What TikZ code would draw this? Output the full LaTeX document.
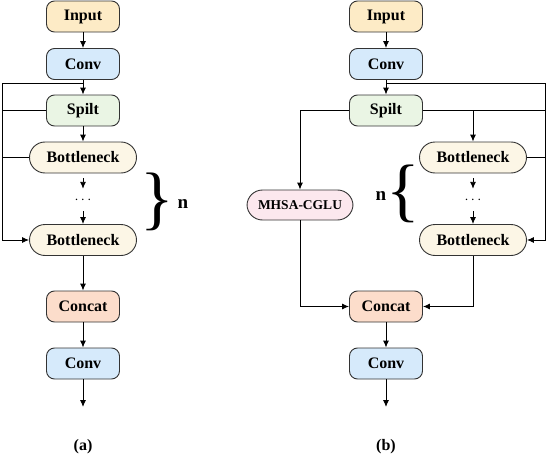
\documentclass[tikz,border=0pt]{standalone}
\usepackage{fontspec}
\setmainfont{Liberation Serif}
\usetikzlibrary{arrows.meta,calc}
\definecolor{cInput}{HTML}{FDEBC6}
\definecolor{cConv}{HTML}{D6EAFB}
\definecolor{cSplit}{HTML}{EAF5E4}
\definecolor{cBott}{HTML}{FCF6E6}
\definecolor{cConcat}{HTML}{FCDDCB}
\definecolor{cMhsa}{HTML}{FCE8EE}
\definecolor{cEdge}{HTML}{333333}
\tikzset{
  box/.style={draw=cEdge, line width=0.9pt, rounded corners=8pt, minimum width=73pt, minimum height=31pt, inner sep=0pt, font=\fontsize{16}{19}\selectfont\bfseries},
  pill/.style={draw=cEdge, line width=0.9pt, rounded corners=15.5pt, minimum width=107pt, minimum height=31pt, inner sep=0pt, font=\fontsize{16}{19}\selectfont\bfseries, fill=cBott},
  ln/.style={line width=0.9pt, draw=black},
  arr/.style={ln, -{Latex[length=7pt,width=6pt]}},
  dotsnode/.style={minimum height=22pt, inner sep=0pt, font=\fontsize{14}{14}\selectfont},
  lbl/.style={font=\fontsize{16}{19}\selectfont\bfseries, inner sep=0pt},
  nlbl/.style={font=\fontsize{19}{22}\selectfont\bfseries, inner sep=0pt},
  bracenode/.style={inner sep=0pt, font=\fontsize{70}{70}\selectfont}
}
\begin{document}
\begin{tikzpicture}[x=1pt,y=-1pt]
\useasboundingbox (0,0) rectangle (550,463);
% ---------- (a) ----------
\node[box, fill=cInput] (in1) at (83,16.5) {Input};
\node[box, fill=cConv] (cv1) at (83,64) {Conv};
\node[box, fill=cSplit] (sp1) at (83,110.5) {Spilt};
\node[pill] (b1a) at (83,157.5) {Bottleneck};
\node[dotsnode] (d1) at (83,200) {$\cdots$};
\node[pill] (b1b) at (83,240) {Bottleneck};
\node[box, fill=cConcat] (cc1) at (83,306.5) {Concat};
\node[box, fill=cConv] (cv1b) at (83,363.5) {Conv};
\coordinate (o1) at (83,407);
\coordinate (j1) at (83,83);
\coordinate (l1) at (2,83);
\draw[arr] (in1) -- (cv1);
\draw[arr] (cv1) -- (sp1);
\draw[arr] (sp1) -- (b1a);
\draw[arr, shorten <=5pt] (b1a) -- (d1.north);
\draw[arr] (d1.south) -- (b1b);
\draw[arr] (b1b) -- (cc1);
\draw[arr] (cc1) -- (cv1b);
\draw[arr] (cv1b) -- (o1);
\draw[arr] (j1) -- (l1) |- (b1b.west);
\draw[ln] (sp1.west) -- (sp1.west -| l1);
\draw[ln] (b1a.west) -- (b1a.west -| l1);
\node[bracenode] (br1) at (157,202) {\}};
\node[nlbl] (n1) at (183,204) {n};
\node[lbl] (la) at (83,447) {(a)};
% ---------- (b) ----------
\node[box, fill=cInput] (in2) at (386,16.5) {Input};
\node[box, fill=cConv] (cv2) at (386,64) {Conv};
\node[box, fill=cSplit] (sp2) at (386,110.5) {Spilt};
\node[pill, fill=cMhsa, minimum width=106pt, minimum height=30pt, font=\fontsize{13.5}{16}\selectfont\bfseries] (mh) at (300,205) {MHSA-CGLU};
\node[pill] (b2a) at (473,157.5) {Bottleneck};
\node[dotsnode] (d2) at (473,200) {$\cdots$};
\node[pill] (b2b) at (473,240) {Bottleneck};
\node[box, fill=cConcat] (cc2) at (386,306.5) {Concat};
\node[box, fill=cConv] (cv2b) at (386,363.5) {Conv};
\coordinate (o2) at (386,407);
\coordinate (j2) at (386,83);
\coordinate (r2) at (545,83);
\draw[arr] (in2) -- (cv2);
\draw[arr] (cv2) -- (sp2);
\draw[arr] (j2) -- (r2) |- (b2b.east);
\draw[ln] (sp2.east) -- (sp2.east -| r2);
\draw[arr] (sp2.east -| b2a) -- (b2a.north);
\draw[ln] (b2a.east) -- (b2a.east -| r2);
\draw[arr] (sp2.west) -| (mh.north);
\draw[arr, shorten <=5pt] (b2a) -- (d2.north);
\draw[arr] (d2.south) -- (b2b);
\draw[arr] (mh.south) |- (cc2.west);
\draw[arr] (b2b.south) |- (cc2.east);
\draw[arr] (cc2) -- (cv2b);
\draw[arr] (cv2b) -- (o2);
\node[bracenode] (br2) at (403,194) {\{};
\node[nlbl] (n2) at (381,196) {n};
\node[lbl] (lb) at (386,447) {(b)};
\end{tikzpicture}
\end{document}
